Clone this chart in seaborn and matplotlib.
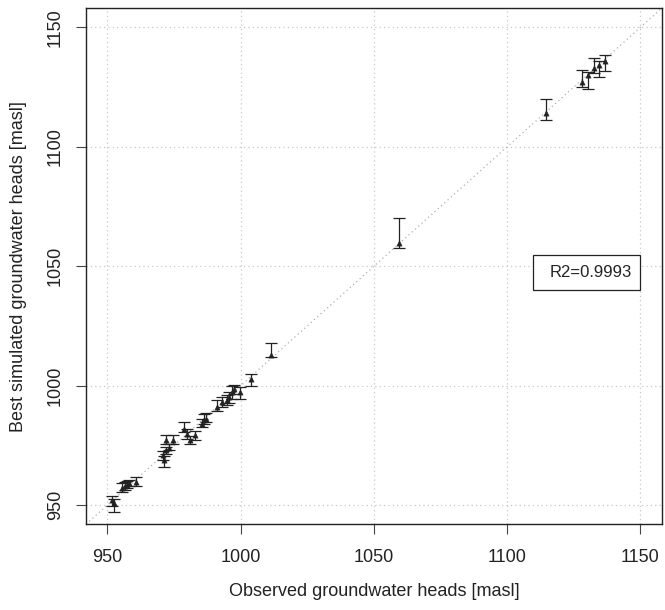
import matplotlib
matplotlib.use("Agg")
import matplotlib.pyplot as plt
import seaborn as sns
import pandas as pd
from matplotlib.patches import Rectangle

# ---- data ----
obs = [951.9, 952.5, 955.6, 956.5, 957.3, 958.1, 960.6, 971.3, 970.9, 971.9,
       973.1, 972.1, 974.6, 978.8, 979.8, 981.0, 982.9, 985.4, 986.3, 986.9,
       991.3, 993.1, 995.0, 995.6, 996.9, 997.5, 999.6, 1003.8, 1011.3, 1059.5,
       1114.6, 1128.1, 1130.4, 1132.5, 1134.6, 1136.6]
sim = [952.1, 951.0, 957.2, 957.9, 958.6, 959.3, 959.8, 968.8, 970.9, 973.0,
       974.1, 977.2, 977.2, 982.1, 979.9, 977.2, 979.3, 984.1, 985.5, 986.2,
       991.1, 993.2, 993.9, 995.3, 997.4, 998.8, 997.4, 1003.0, 1012.7, 1059.6,
       1114.1, 1127.3, 1130.2, 1133.0, 1134.4, 1135.8]
sim_hi = [953.8, 952.4, 959.1, 959.8, 960.2, 960.7, 961.6, 970.5, 972.7, 974.5,
          975.8, 979.3, 979.3, 984.8, 982.0, 978.9, 981.1, 986.2, 988.3, 988.5,
          993.9, 995.3, 996.0, 997.4, 999.8, 1000.2, 999.5, 1004.8, 1018.0, 1070.4,
          1120.0, 1132.2, 1131.5, 1137.2, 1136.1, 1138.6]
sim_lo = [949.6, 947.2, 955.6, 956.3, 957.0, 957.9, 957.9, 966.0, 969.1, 971.5,
          973.3, 975.8, 975.8, 980.7, 977.9, 975.8, 977.2, 982.8, 984.1, 984.8,
          989.4, 991.1, 991.8, 992.8, 994.6, 996.7, 994.6, 999.8, 1012.0, 1057.5,
          1111.4, 1125.0, 1124.2, 1130.8, 1129.4, 1131.9]
ticks = [950, 1000, 1050, 1100, 1150]
r2_label = "R2=0.9993"
xlabel = "Observed groundwater heads [masl]"
ylabel = "Best simulated groundwater heads [masl]"

df = pd.DataFrame({"obs": obs, "sim": sim, "lo": sim_lo, "hi": sim_hi})

sns.set_theme(style="white")
plt.rcParams["font.family"] = ["Liberation Sans", "DejaVu Sans"]

fig = plt.figure(figsize=(6.65, 6.10), dpi=100)
ax = fig.add_axes([0.1293, 0.1405, 0.995 - 0.1293, 0.9864 - 0.1405])

lim = (950 - 0.04 * 200, 1150 + 0.04 * 200)
ax.set_xlim(lim)
ax.set_ylim(lim)

# grid
for t in ticks:
    ax.axvline(t, color="#c8c8c8", lw=0.9, ls=(0, (1, 2.5)), zorder=0)
    ax.axhline(t, color="#c8c8c8", lw=0.9, ls=(0, (1, 2.5)), zorder=0)
# 1:1 line
ax.axline((950, 950), slope=1, color="#b0b0b0", lw=0.9, ls=(0, (1, 2.5)), zorder=0)

# error bars
ax.errorbar(df["obs"], df["sim"],
            yerr=[df["sim"] - df["lo"], df["hi"] - df["sim"]],
            fmt="none", ecolor="#222222", elinewidth=0.9, capsize=4.5,
            capthick=0.9, zorder=2)
sns.scatterplot(data=df, x="obs", y="sim", ax=ax, marker="^", s=14,
                color="#222222", edgecolor="#222222", linewidth=0.4, zorder=3)

ax.set_xticks(ticks)
ax.set_yticks(ticks)
ax.set_xticklabels([str(t) for t in ticks], fontsize=13, color="#222222")
ax.set_yticklabels([str(t) for t in ticks], fontsize=13, color="#222222",
                   rotation=90, va="center")
ax.tick_params(axis="both", direction="out", length=7, width=0.8,
               color="#444444", bottom=True, left=True)
ax.tick_params(axis="x", pad=11)
ax.tick_params(axis="y", pad=9)

for sp in ax.spines.values():
    sp.set_visible(True)
    sp.set_color("#222222")
    sp.set_linewidth(1.0)

ax.set_xlabel(xlabel, fontsize=13, color="#222222", labelpad=12)
ax.set_ylabel(ylabel, fontsize=13, color="#222222", labelpad=14)

# R2 box
ax.add_patch(Rectangle((0.7765, 0.454), 0.9623 - 0.7765, 0.522 - 0.454,
                       transform=ax.transAxes, fill=True, facecolor="white",
                       edgecolor="#222222", lw=0.9, zorder=4))
ax.text(0.948, 0.488, r2_label, transform=ax.transAxes, ha="right", va="center",
        fontsize=12, color="#222222", zorder=5)

fig.savefig("out.png", dpi=100)
